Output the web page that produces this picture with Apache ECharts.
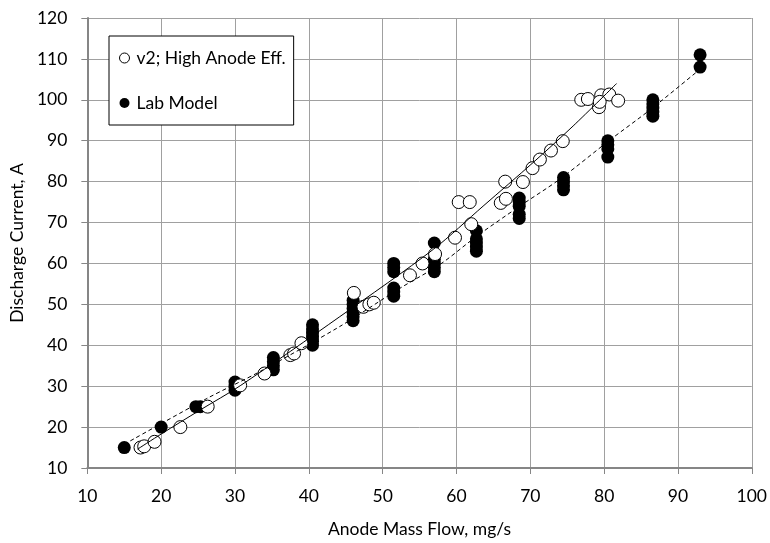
<!DOCTYPE html>
<html>
<head>
<meta charset="utf-8">
<script src="https://cdn.jsdelivr.net/npm/echarts@6/dist/echarts.min.js"></script>
<style>
  html, body { margin: 0; padding: 0; background: #fff; }
  #main { width: 770px; height: 543px; }
</style>
</head>
<body>
<div id="main"></div>
<script>
// measured points, [mass flow mg/s, current A]
const v2HighAnode = [
  [17.2, 15], [17.7, 15.3], [19.1, 16.4], [22.6, 20], [26.3, 25],
  [30.7, 30.2], [34, 33.1], [37.5, 37.6], [38, 38], [39, 40.5],
  [46.1, 52.8], [47.4, 49.4], [48.2, 50], [48.8, 50.4],
  [53.7, 57.1], [55.4, 60], [57.1, 62.3], [59.8, 66.3], [62, 69.6],
  [60.3, 75], [61.8, 75], [66, 74.8], [66.7, 75.8], [66.6, 80],
  [69, 79.9], [70.3, 83.3], [71.3, 85.4], [72.8, 87.6], [74.4, 89.9],
  [76.9, 100], [77.8, 100.2], [79.6, 101.1], [80.7, 101.3], [81.9, 99.8],
  [79.3, 98.2], [79.4, 99.5]
];

const labModel = [
  [15, 15], [20, 20], [24.7, 25], [25.3, 25],
  [30, 29], [30, 30], [30, 31],
  [35.2, 34], [35.2, 35], [35.2, 36], [35.2, 37],
  [40.5, 40], [40.5, 41], [40.5, 42], [40.5, 43], [40.5, 44], [40.5, 45],
  [46, 46], [46, 47], [46, 48], [46, 49], [46, 50], [46, 51],
  [51.5, 52], [51.5, 53], [51.5, 54], [51.5, 58], [51.5, 59], [51.5, 60],
  [57, 58], [57, 59], [57, 60], [57, 61], [57, 65],
  [62.7, 63], [62.7, 64], [62.7, 65], [62.7, 66], [62.7, 68],
  [68.5, 71], [68.5, 72], [68.5, 74], [68.5, 75], [68.5, 76],
  [74.5, 78], [74.5, 79], [74.5, 80], [74.5, 81],
  [80.5, 86], [80.5, 88], [80.5, 89], [80.5, 90],
  [86.6, 96], [86.6, 97], [86.6, 98], [86.6, 99], [86.6, 100],
  [93, 108], [93, 111]
];

// trend lines
const v2Trend = [
  [16.8, 14.6], [20, 18.3], [25.3, 24.2], [30.7, 30.1], [44.2, 47],
  [56.9, 63.5], [63.6, 74], [70.4, 84.7], [75.8, 93.6], [81.7, 104]
];
const labTrend = [
  [15, 15.8], [26.2, 27], [33.4, 33.6], [44.2, 44.6], [52.4, 54],
  [57.8, 59.8], [62.7, 66.6], [68.4, 73.8], [74, 80.6], [80.8, 90.2],
  [86.4, 97.8], [93, 107.5]
];

const seriesNames = ['v2; High Anode Eff.', 'Lab Model'];

const chart = echarts.init(document.getElementById('main'));
const font = 'Lato';
const gray = '#a0a0a0';

chart.setOption({
  animation: false,
  backgroundColor: '#fff',
  textStyle: { fontFamily: font },
  grid: { left: 87, top: 18, right: 18, bottom: 70 },
  legend: {
    data: [
      { name: seriesNames[0], icon: 'circle', itemStyle: { color: '#fff', borderColor: '#000', borderWidth: 1 } },
      { name: seriesNames[1], icon: 'circle' }
    ],
    orient: 'vertical',
    left: 109,
    top: 36,
    itemWidth: 14,
    itemHeight: 10,
    itemGap: 25,
    padding: [12, 8, 12, 10],
    backgroundColor: '#fff',
    borderColor: '#000',
    borderWidth: 1,
    borderRadius: 0,
    textStyle: { fontFamily: font, fontSize: 17.5, color: '#000', lineHeight: 20 }
  },
  xAxis: {
    type: 'value',
    min: 10, max: 100, interval: 10,
    name: 'Anode Mass Flow, mg/s',
    nameLocation: 'middle',
    nameGap: 52,
    nameTextStyle: { fontFamily: font, fontSize: 17.5, color: '#000' },
    axisLine: { lineStyle: { color: '#868686', width: 2 } },
    axisTick: { show: true, inside: false, length: 6, lineStyle: { color: '#868686' } },
    axisLabel: { fontFamily: font, fontSize: 17.5, color: '#000', margin: 19 },
    splitLine: { show: true, lineStyle: { color: gray, width: 1 } }
  },
  yAxis: {
    type: 'value',
    min: 10, max: 120, interval: 10,
    name: 'Discharge Current, A',
    nameLocation: 'middle',
    nameGap: 58,
    nameTextStyle: { fontFamily: font, fontSize: 17.5, color: '#000' },
    axisLine: { show: true, lineStyle: { color: '#868686', width: 2 } },
    axisTick: { show: true, inside: false, length: 6, lineStyle: { color: '#868686' } },
    axisLabel: { fontFamily: font, fontSize: 17.5, color: '#000', margin: 20 },
    splitLine: { show: true, lineStyle: { color: gray, width: 1 } }
  },
  series: [
    {
      name: seriesNames[1],
      type: 'scatter',
      data: labModel,
      symbol: 'circle',
      symbolSize: 13,
      itemStyle: { color: '#000', opacity: 1 },
      z: 2
    },
    {
      name: seriesNames[0],
      type: 'scatter',
      data: v2HighAnode,
      symbol: 'circle',
      symbolSize: 13,
      itemStyle: { color: '#fff', borderColor: '#000', borderWidth: 1, opacity: 1 },
      z: 3
    },
    {
      name: 'v2 trend',
      type: 'line',
      data: v2Trend,
      smooth: 0.3,
      symbol: 'none',
      silent: true,
      lineStyle: { color: '#000', width: 1 },
      z: 4
    },
    {
      name: 'lab trend',
      type: 'line',
      data: labTrend,
      smooth: 0.3,
      symbol: 'none',
      silent: true,
      lineStyle: { color: '#000', width: 1, type: [4, 3] },
      z: 4
    }
  ]
});
</script>
</body>
</html>
